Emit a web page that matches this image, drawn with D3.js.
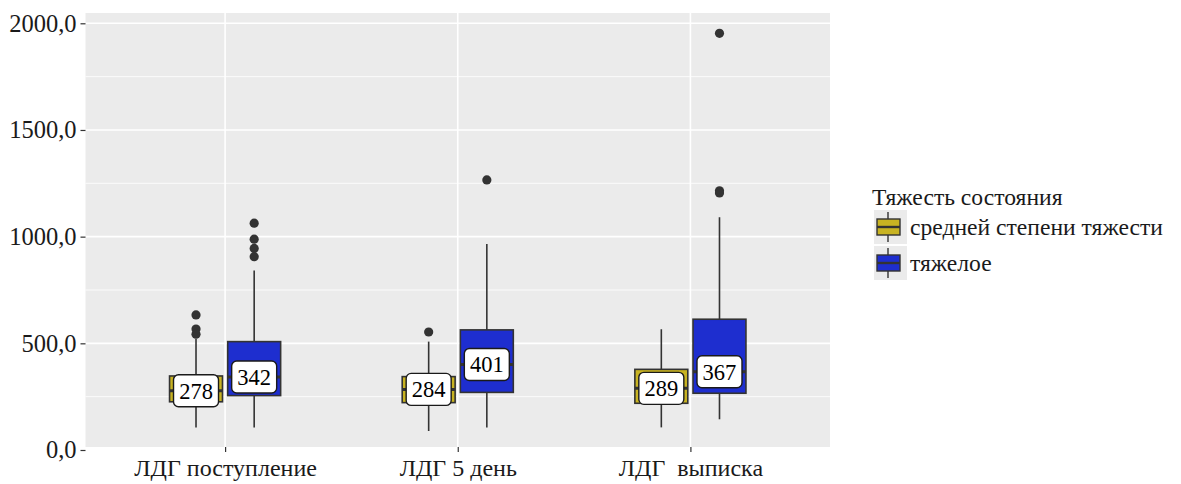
<!DOCTYPE html>
<html>
<head>
<meta charset="utf-8">
<script src="https://cdn.jsdelivr.net/npm/d3@7"></script>
<style>
  html, body { margin: 0; padding: 0; background: #ffffff; }
  svg { display: block; font-family: "Liberation Serif", "DejaVu Serif", serif; }
  svg text { white-space: pre; }
</style>
</head>
<body>
<svg id="chart" width="1181" height="484"></svg>
<script>
// Categories on the x axis and the grouping variable
const categories = ["ЛДГ поступление", "ЛДГ 5 день", "ЛДГ  выписка"];
const groups = ["средней степени тяжести", "тяжелое"];
const legendTitle = "Тяжесть состояния";

// Box statistics per category, one array per group: [lowerWhisker, q1, median, q3, upperWhisker]
const moderateStats = [
  [105, 226, 278, 347, 522],
  [89, 222, 284, 344, 508],
  [106, 219, 289, 378, 566]
];
const severeStats = [
  [105, 255, 342, 508, 841],
  [105, 270, 401, 563, 966],
  [144, 266, 367, 613, 1091]
];

// Outlying observations per category
const moderateOutliers = [
  [633, 567, 543],
  [553],
  []
];
const severeOutliers = [
  [1063, 988, 945, 906],
  [1266],
  [1953, 1215, 1205]
];

// Y axis ticks
const yTicks = [0, 500, 1000, 1500, 2000];
const yMinor = [250, 750, 1250, 1750];

const fillColors = ["#C8B322", "#1E2ECF"];

const svg = d3.select("#chart");

const panel = { left: 85.5, right: 830, top: 13, bottom: 447 };

const x = d3.scalePoint()
  .domain(categories)
  .range([panel.left, panel.right])
  .padding(0.6);

const step = x.step();

const xg = d3.scaleBand()
  .domain(groups)
  .range([-0.25 * step, 0.25 * step])
  .paddingInner(0.0);

const y = d3.scaleLinear()
  .domain([0, 2000])
  .range([450, 23.3]);

const color = d3.scaleOrdinal().domain(groups).range(fillColors);

// Panel background
svg.append("rect")
  .attr("x", panel.left).attr("y", panel.top)
  .attr("width", panel.right - panel.left)
  .attr("height", panel.bottom - panel.top)
  .attr("fill", "#EBEBEB");

// Grid lines
const grid = svg.append("g");
grid.selectAll(".minor").data(yMinor).join("line")
  .attr("x1", panel.left).attr("x2", panel.right)
  .attr("y1", d => y(d)).attr("y2", d => y(d))
  .attr("stroke", "#ffffff").attr("stroke-width", 0.8);
grid.selectAll(".major").data(yTicks.filter(d => y(d) <= panel.bottom)).join("line")
  .attr("x1", panel.left).attr("x2", panel.right)
  .attr("y1", d => y(d)).attr("y2", d => y(d))
  .attr("stroke", "#ffffff").attr("stroke-width", 1.6);
grid.selectAll(".vmajor").data(categories).join("line")
  .attr("x1", d => x(d)).attr("x2", d => x(d))
  .attr("y1", panel.top).attr("y2", panel.bottom)
  .attr("stroke", "#ffffff").attr("stroke-width", 1.6);

// Y axis
const yAxis = d3.axisLeft(y)
  .tickValues(yTicks)
  .tickSize(5)
  .tickPadding(4)
  .tickFormat(d => d3.format(".1f")(d).replace(".", ","));
const yA = svg.append("g")
  .attr("transform", `translate(${panel.left},0)`)
  .call(yAxis);
yA.select(".domain").remove();
yA.selectAll(".tick line").attr("stroke", "#333333").attr("stroke-width", 1.2);
yA.selectAll(".tick text")
  .attr("fill", "#1a1a1a")
  .attr("font-size", 24.5)
  .attr("font-family", "Liberation Serif");

// X axis
const xAxis = d3.axisBottom(x).tickSize(5).tickPadding(7);
const xA = svg.append("g")
  .attr("transform", `translate(0,${panel.bottom})`)
  .call(xAxis);
xA.select(".domain").remove();
xA.selectAll(".tick line").attr("stroke", "#333333").attr("stroke-width", 1.2);
xA.selectAll(".tick text")
  .attr("fill", "#1a1a1a")
  .attr("font-size", 24)
  .attr("font-family", "Liberation Serif");

// Flatten data for drawing
const boxes = [];
categories.forEach((c, i) => {
  [moderateStats, severeStats].forEach((stats, gi) => {
    const s = stats[i];
    boxes.push({
      cat: c, group: groups[gi],
      lo: s[0], q1: s[1], med: s[2], q3: s[3], hi: s[4],
      outliers: (gi === 0 ? moderateOutliers : severeOutliers)[i]
    });
  });
});

const boxW = xg.bandwidth() * 0.91;
const cx = d => x(d.cat) + xg(d.group) + xg.bandwidth() / 2;

const gBoxes = svg.append("g");
const bx = gBoxes.selectAll("g").data(boxes).join("g");

// Whiskers
bx.append("line")
  .attr("x1", cx).attr("x2", cx)
  .attr("y1", d => y(d.q3)).attr("y2", d => y(d.hi))
  .attr("stroke", "#333333").attr("stroke-width", 1.6);
bx.append("line")
  .attr("x1", cx).attr("x2", cx)
  .attr("y1", d => y(d.q1)).attr("y2", d => y(d.lo))
  .attr("stroke", "#333333").attr("stroke-width", 1.6);

// Boxes
bx.append("rect")
  .attr("x", d => cx(d) - boxW / 2)
  .attr("width", boxW)
  .attr("y", d => y(d.q3))
  .attr("height", d => y(d.q1) - y(d.q3))
  .attr("fill", d => color(d.group))
  .attr("stroke", "#333333").attr("stroke-width", 1.6);

// Medians
bx.append("line")
  .attr("x1", d => cx(d) - boxW / 2).attr("x2", d => cx(d) + boxW / 2)
  .attr("y1", d => y(d.med)).attr("y2", d => y(d.med))
  .attr("stroke", "#333333").attr("stroke-width", 3);

// Outliers
bx.selectAll("circle").data(d => d.outliers.map(v => ({ v, d }))).join("circle")
  .attr("cx", o => cx(o.d))
  .attr("cy", o => y(o.v))
  .attr("r", 4.6)
  .attr("fill", "#333333");

// Median labels
const labW = 45, labH = 32;
const gLab = svg.append("g");
const lab = gLab.selectAll("g").data(boxes).join("g")
  .attr("transform", d => `translate(${cx(d)},${y(d.med)})`);
lab.append("rect")
  .attr("x", -labW / 2).attr("y", -labH / 2)
  .attr("width", labW).attr("height", labH)
  .attr("rx", 5).attr("ry", 5)
  .attr("fill", "#ffffff")
  .attr("stroke", "#1a1a1a").attr("stroke-width", 1.4);
lab.append("text")
  .attr("text-anchor", "middle")
  .attr("dy", "0.35em")
  .attr("font-size", 22.5)
  .attr("fill", "#000000")
  .text(d => d3.format("d")(d.med));

// Legend
const legend = svg.append("g").attr("transform", "translate(872,0)");
legend.append("text")
  .attr("x", 0).attr("y", 205)
  .attr("font-size", 23.6)
  .attr("fill", "#1a1a1a")
  .text(legendTitle);

const keys = legend.selectAll(".key").data(groups).join("g")
  .attr("transform", (d, i) => `translate(0,${227 + i * 36})`);
keys.append("rect")
  .attr("x", 2).attr("y", -17)
  .attr("width", 33).attr("height", 34)
  .attr("fill", "#EBEBEB");
keys.append("line")
  .attr("x1", 16).attr("x2", 16).attr("y1", -15).attr("y2", 15)
  .attr("stroke", "#333333").attr("stroke-width", 1.4);
keys.append("rect")
  .attr("x", 5).attr("y", -8)
  .attr("width", 23).attr("height", 16)
  .attr("fill", d => color(d))
  .attr("stroke", "#333333").attr("stroke-width", 1.4);
keys.append("line")
  .attr("x1", 5).attr("x2", 28).attr("y1", 0).attr("y2", 0)
  .attr("stroke", "#333333").attr("stroke-width", 2.4);
keys.append("text")
  .attr("x", 38).attr("y", 0)
  .attr("dy", "0.35em")
  .attr("font-size", 23.6)
  .attr("fill", "#1a1a1a")
  .text(d => d);
</script>
</body>
</html>
